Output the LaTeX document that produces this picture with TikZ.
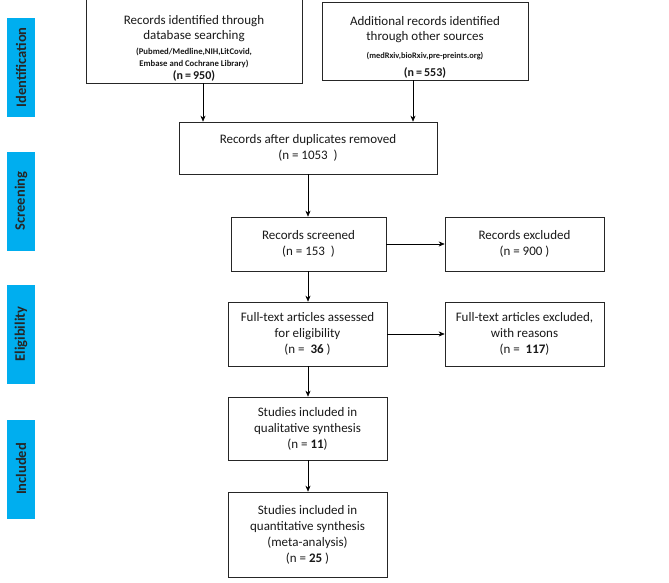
\documentclass[tikz,border=0pt]{standalone}
\usepackage{fontspec}
\setmainfont{Carlito}
\usetikzlibrary{arrows.meta,shadows}
\definecolor{phase}{HTML}{00AEEF}
\begin{document}
\begin{tikzpicture}[x=1pt,y=-1pt,
  box/.style={draw=black!85,line width=0.6pt,fill=white,align=center,inner sep=2pt,
    font=\fontsize{13}{16}\selectfont,text=black!90,
    drop shadow={shadow xshift=1.2pt,shadow yshift=-1.2pt,opacity=0.45,fill=black!60}},
  arr/.style={-{Stealth[length=6pt,width=5pt]},line width=0.6pt,black},
  phasebox/.style={fill=phase,rotate=90,minimum width=99pt,minimum height=28pt,inner sep=0pt,
    font=\fontsize{14.5}{17}\selectfont\bfseries,text=black!85}]
\path[fill=white,use as bounding box] (0,0) rectangle (669,583);
% phase labels
\node[phasebox] (p1) at (21,67.5) {Identification};
\node[phasebox] (p2) at (21,201) {Screening};
\node[phasebox] (p3) at (21,334) {Eligibility};
\node[phasebox] (p4) at (21,469) {Included};
% boxes
\node[box,minimum width=216pt,minimum height=78pt] (b1) at (194,41)
  {\rule{0pt}{24pt}Records identified through\\[-1pt]database searching\\[-1.5pt]
   {\fontsize{8.7}{10.5}\selectfont\bfseries (Pubmed/Medline,NIH,LitCovid,}\\[-4pt]
   {\fontsize{8.7}{10.5}\selectfont\bfseries Embase and Cochrane Library)}\\[-3pt]
   {\fontsize{12}{13}\selectfont\bfseries (n\,=\,950)}};
\node[box,minimum width=206pt,minimum height=78pt] (b2) at (425,41)
  {\rule{0pt}{21pt}Additional records identified\\[-1pt]through other sources\\[2pt]
   {\fontsize{8.4}{10}\selectfont\bfseries (medRxiv,bioRxiv,pre-preints.org)}\\[2pt]
   {\fontsize{12}{13}\selectfont\bfseries (n\,=\,553)}};
\node[box,minimum width=258pt,minimum height=52pt] (b3) at (308,148)
  {Records after duplicates removed\\(n = 1053~~)};
\node[box,minimum width=155pt,minimum height=54pt] (b4) at (308.5,244)
  {Records screened\\(n = 153~~)};
\node[box,minimum width=159pt,minimum height=54pt] (b5) at (524.5,244)
  {Records excluded\\(n = 900 )};
\node[box,minimum width=159pt,minimum height=64pt] (b6) at (307.5,334)
  {Full-text articles assessed\\for eligibility\\(n = ~\textbf{36} )};
\node[box,minimum width=159pt,minimum height=64pt] (b7) at (524.5,334)
  {Full-text articles excluded,\\with reasons\\(n = ~\textbf{117})};
\node[box,minimum width=159pt,minimum height=63pt] (b8) at (307.5,428.5)
  {Studies included in\\qualitative synthesis\\(n = \textbf{11})};
\node[box,minimum width=159pt,minimum height=85pt] (b9) at (307.5,534.5)
  {Studies included in\\quantitative synthesis\\(meta-analysis)\\(n = \textbf{25} )};
% connectors
\coordinate (c1) at (203,0);
\coordinate (c2) at (413,0);
\coordinate (c3) at (308,0);
\draw[arr] (b1.south -| c1) -- (b3.north -| c1);
\draw[arr] (b2.south -| c2) -- (b3.north -| c2);
\draw[arr] (b3.south -| c3) -- (b4.north -| c3);
\draw[arr] (b4.south -| c3) -- (b6.north -| c3);
\draw[arr] (b6.south -| c3) -- (b8.north -| c3);
\draw[arr] (b8.south -| c3) -- (b9.north -| c3);
\draw[arr] (b4.east) -- (b4.east -| b5.west);
\draw[arr] (b6.east) -- (b6.east -| b7.west);
\end{tikzpicture}
\end{document}
